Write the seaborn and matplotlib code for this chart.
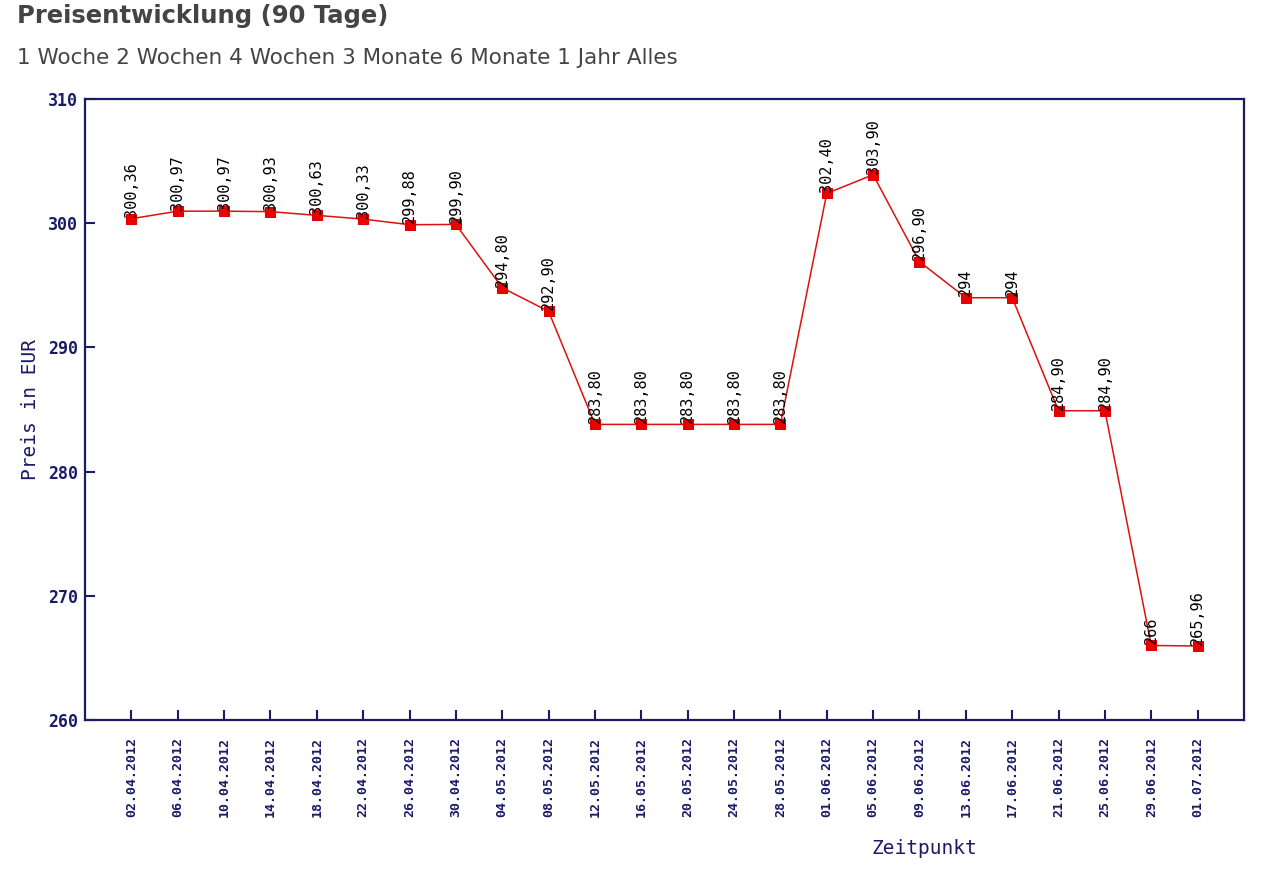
import numpy as np
import pandas as pd
import matplotlib
matplotlib.use("Agg")
import matplotlib.pyplot as plt
import seaborn as sns

dates = ["02.04.2012", "06.04.2012", "10.04.2012", "14.04.2012", "18.04.2012", "22.04.2012",
         "26.04.2012", "30.04.2012", "04.05.2012", "08.05.2012", "12.05.2012", "16.05.2012",
         "20.05.2012", "24.05.2012", "28.05.2012", "01.06.2012", "05.06.2012", "09.06.2012",
         "13.06.2012", "17.06.2012", "21.06.2012", "25.06.2012", "29.06.2012", "01.07.2012"]
prices = [300.36, 300.97, 300.97, 300.93, 300.63, 300.33, 299.88, 299.90, 294.80, 292.90,
          283.80, 283.80, 283.80, 283.80, 283.80, 302.40, 303.90, 296.90, 294.00, 294.00,
          284.90, 284.90, 266.00, 265.96]
labels = ["300,36", "300,97", "300,97", "300,93", "300,63", "300,33", "299,88", "299,90",
          "294,80", "292,90", "283,80", "283,80", "283,80", "283,80", "283,80", "302,40",
          "303,90", "296,90", "294", "294", "284,90", "284,90", "266", "265,96"]
yticks = [260, 270, 280, 290, 300, 310]

df = pd.DataFrame({"idx": range(len(dates)), "Datum": dates, "Preis": prices})

navy = "#1a1a66"
sns.set_style("white")

fig = plt.figure(figsize=(12.8, 8.72), dpi=100)
ax = fig.add_axes([85/1280, 1 - 720/872, (1244 - 85)/1280, (720 - 99)/872])

sns.lineplot(data=df, x="idx", y="Preis", ax=ax, color="#dd1111", linewidth=1.1,
             marker="s", markersize=7, markeredgecolor="#dd0000", markerfacecolor="#ee0000")

# Wertebeschriftung senkrecht ueber jedem Punkt
for i, (p, t) in enumerate(zip(prices, labels)):
    ax.text(i, p + 0.1, t, rotation=90, ha="center", va="bottom", fontsize=11,
            family="DejaVu Sans Mono", color="black")

ax.set_xlim(-1, len(dates))
ax.set_ylim(260, 310)
ax.set_xticks(range(len(dates)))
ax.set_xticklabels(dates, rotation=90, family="DejaVu Sans Mono", fontsize=9.5,
                   fontweight="bold", color=navy)
ax.set_yticks(yticks)
ax.set_yticklabels([str(v) for v in yticks], family="DejaVu Sans Mono", fontsize=12,
                   fontweight="bold", color=navy)
ax.tick_params(axis="both", bottom=True, left=True, length=7, width=1.5, color=navy,
               direction="in", pad=5)
ax.tick_params(axis="x", pad=12)
for s in ax.spines.values():
    s.set_color(navy)
    s.set_linewidth(1.6)
ax.set_xlabel("")
ax.set_ylabel("Preis in EUR", family="DejaVu Sans Mono", fontsize=14, color=navy, labelpad=6)
ax.grid(False)

fig.text(924/1280, 1 - 848/872, "Zeitpunkt", family="DejaVu Sans Mono", fontsize=14,
         color=navy, ha="center", va="center")
fig.text(17/1280, 1 - 16/872, "Preisentwicklung (90 Tage)", fontsize=17.5, fontweight="bold",
         color="#444444", ha="left", va="center")
fig.text(17/1280, 1 - 58/872, "1 Woche 2 Wochen 4 Wochen 3 Monate 6 Monate 1 Jahr Alles",
         fontsize=15.5, color="#444444", ha="left", va="center")

fig.savefig("out.png", dpi=100, facecolor="white")
